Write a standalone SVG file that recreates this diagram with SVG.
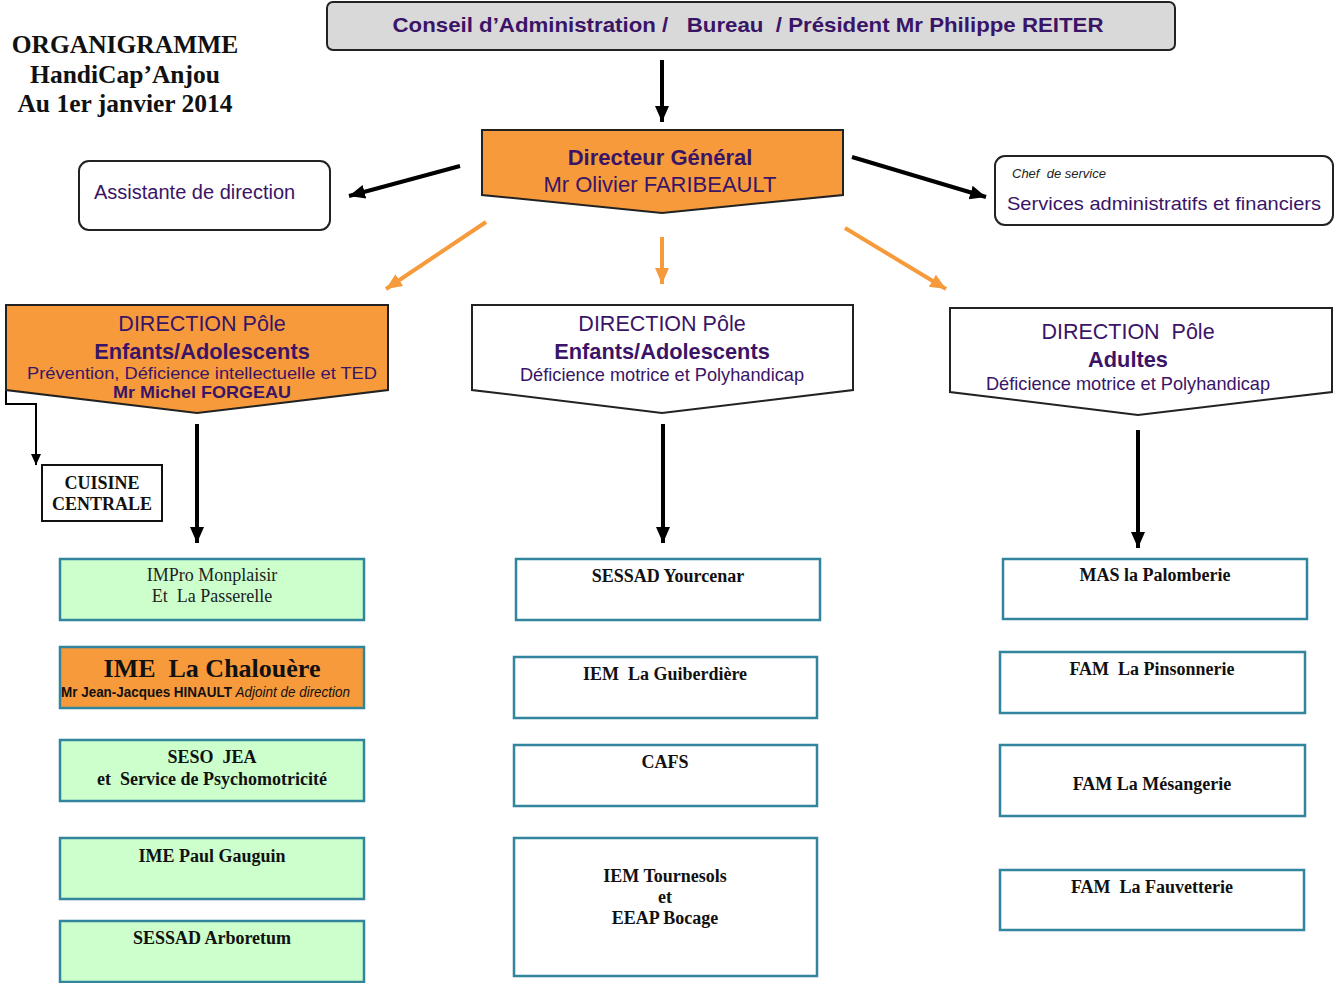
<svg xmlns="http://www.w3.org/2000/svg" width="1334" height="983" viewBox="0 0 1334 983">
<style>
text{white-space:pre}
.sans{font-family:"Liberation Sans",Arial,sans-serif}
.serif{font-family:"Liberation Serif","Times New Roman",serif}
.purple{fill:#3a1466}
.box{stroke:#31859c;stroke-width:2.5}
.green{fill:#ccffcc}
.white{fill:#ffffff}
.orange{fill:#f79a3c}
.lbl{font-family:"Liberation Serif","Times New Roman",serif;font-weight:bold;fill:#111;text-anchor:middle}
.blk{stroke:#000;stroke-width:4;fill:none}
.org{stroke:#f79a3c;stroke-width:4;fill:none}
</style>
<defs>
<marker id="ab" markerUnits="userSpaceOnUse" markerWidth="18" markerHeight="18" viewBox="0 0 18 18" refX="16" refY="9" orient="auto"><path d="M0,2 L16,9 L0,16 Z" fill="#000"/></marker>
<marker id="abs" markerUnits="userSpaceOnUse" markerWidth="12" markerHeight="12" viewBox="0 0 12 12" refX="11" refY="6" orient="auto"><path d="M0,1 L11,6 L0,11 Z" fill="#000"/></marker>
<marker id="ao" markerUnits="userSpaceOnUse" markerWidth="18" markerHeight="18" viewBox="0 0 18 18" refX="16" refY="9" orient="auto"><path d="M0,2 L16,9 L0,16 Z" fill="#f79a3c"/></marker>
</defs>
<rect width="1334" height="983" fill="#fff"/>

<g id="title" class="serif" font-weight="bold" font-size="25.5" fill="#111" text-anchor="middle">
<text x="125" y="53">ORGANIGRAMME</text>
<text x="125" y="83">HandiCap’Anjou</text>
<text x="125" y="112">Au 1er janvier 2014</text>
</g>

<g id="connectors">
<line x1="662" y1="60" x2="662" y2="122" class="blk" marker-end="url(#ab)"/>
<line x1="460" y1="166" x2="349" y2="196" class="blk" marker-end="url(#ab)"/>
<line x1="852" y1="157" x2="986" y2="197" class="blk" marker-end="url(#ab)"/>
<line x1="486" y1="222" x2="386" y2="289" class="org" marker-end="url(#ao)"/>
<line x1="662" y1="237" x2="662" y2="284" class="org" marker-end="url(#ao)"/>
<line x1="845" y1="228" x2="946" y2="289" class="org" marker-end="url(#ao)"/>
<line x1="197" y1="424" x2="197" y2="543" class="blk" marker-end="url(#ab)"/>
<line x1="663" y1="424" x2="663" y2="543" class="blk" marker-end="url(#ab)"/>
<line x1="1138" y1="430" x2="1138" y2="548" class="blk" marker-end="url(#ab)"/>
<path d="M6,345 V404 H36 V465" stroke="#000" stroke-width="2" fill="none" marker-end="url(#abs)"/>
</g>

<g id="conseil">
<rect x="327" y="2" width="848" height="48" rx="6" fill="#d9d9d9" stroke="#222" stroke-width="2"/>
<text x="748" y="32" class="sans purple" font-weight="bold" font-size="21" text-anchor="middle" textLength="711" lengthAdjust="spacingAndGlyphs">Conseil d’Administration /   Bureau  / Président Mr Philippe REITER</text>
</g>

<g id="dg">
<path d="M482,130 H843 V195 L662,213 L482,195 Z" class="orange" stroke="#222" stroke-width="2"/>
<text x="660" y="165" class="sans purple" font-weight="bold" font-size="22" text-anchor="middle">Directeur Général</text>
<text x="660" y="192" class="sans purple" font-size="22" text-anchor="middle">Mr Olivier FARIBEAULT</text>
</g>

<g id="assistante">
<rect x="79" y="161" width="251" height="69" rx="10" fill="#fff" stroke="#222" stroke-width="2"/>
<text x="94" y="199" class="sans purple" font-size="20">Assistante de direction</text>
</g>

<g id="chef">
<rect x="995" y="156" width="338" height="69" rx="10" fill="#fff" stroke="#222" stroke-width="2"/>
<text x="1012" y="178" class="sans" font-style="italic" font-size="13" fill="#222">Chef  de service</text>
<text x="1007" y="210" class="sans purple" font-size="19" textLength="314" lengthAdjust="spacingAndGlyphs">Services administratifs et financiers</text>
</g>

<g id="pole-ea1">
<path d="M6,305 H388 V390 L197,413 L6,390 Z" class="orange" stroke="#222" stroke-width="2"/>
<text x="202" y="331" class="sans purple" font-size="21.5" text-anchor="middle">DIRECTION Pôle</text>
<text x="202" y="359" class="sans purple" font-weight="bold" font-size="21.8" text-anchor="middle">Enfants/Adolescents</text>
<text x="202" y="379" class="sans purple" font-size="16.5" text-anchor="middle" textLength="350" lengthAdjust="spacingAndGlyphs">Prévention, Déficience intellectuelle et TED</text>
<text x="202" y="398" class="sans purple" font-weight="bold" font-size="17" text-anchor="middle" textLength="178" lengthAdjust="spacingAndGlyphs">Mr Michel FORGEAU</text>
</g>

<g id="pole-ea2">
<path d="M472,305 H853 V390 L662,413 L472,390 Z" fill="#fff" stroke="#222" stroke-width="2"/>
<text x="662" y="331" class="sans purple" font-size="21.5" text-anchor="middle">DIRECTION Pôle</text>
<text x="662" y="359" class="sans purple" font-weight="bold" font-size="21.8" text-anchor="middle">Enfants/Adolescents</text>
<text x="662" y="381" class="sans purple" font-size="18.2" text-anchor="middle">Déficience motrice et Polyhandicap</text>
</g>

<g id="pole-adultes">
<path d="M950,308 H1332 V392 L1138,415 L950,392 Z" fill="#fff" stroke="#222" stroke-width="2"/>
<text x="1128" y="339" class="sans purple" font-size="21.5" text-anchor="middle">DIRECTION  Pôle</text>
<text x="1128" y="367" class="sans purple" font-weight="bold" font-size="21.8" text-anchor="middle">Adultes</text>
<text x="1128" y="390" class="sans purple" font-size="18.2" text-anchor="middle">Déficience motrice et Polyhandicap</text>
</g>

<g id="cuisine">
<rect x="42" y="465" width="120" height="56" fill="#fff" stroke="#111" stroke-width="2"/>
<text x="102" y="489" class="lbl" style="font-size:18px">CUISINE</text>
<text x="102" y="510" class="lbl" style="font-size:18px">CENTRALE</text>
</g>

<g id="impro">
<rect x="60" y="559" width="304" height="61" class="box green"/>
<text x="212" y="581" class="serif" font-size="18" fill="#222" text-anchor="middle">IMPro Monplaisir</text>
<text x="212" y="602" class="serif" font-size="18" fill="#222" text-anchor="middle">Et  La Passerelle</text>
</g>

<g id="ime-chalouere">
<rect x="60" y="647" width="304" height="61" class="box orange"/>
<text x="212" y="677" class="lbl" style="font-size:26px">IME  La Chalouère</text>
<text x="61" y="697" class="sans" font-size="14" fill="#111" textLength="289" lengthAdjust="spacingAndGlyphs"><tspan font-weight="bold">Mr Jean-Jacques HINAULT </tspan><tspan font-style="italic">Adjoint de direction</tspan></text>
</g>

<g id="seso" style="font-size:18px">
<rect x="60" y="740" width="304" height="61" class="box green"/>
<text x="212" y="763" class="lbl">SESO  JEA</text>
<text x="212" y="785" class="lbl">et  Service de Psychomotricité</text>
</g>

<g id="ime-gauguin" style="font-size:18px">
<rect x="60" y="838" width="304" height="61" class="box green"/>
<text x="212" y="862" class="lbl">IME Paul Gauguin</text>
</g>

<g id="sessad-arboretum" style="font-size:18px">
<rect x="60" y="921" width="304" height="61" class="box green"/>
<text x="212" y="944" class="lbl">SESSAD Arboretum</text>
</g>

<g id="sessad-yourcenar" style="font-size:18px">
<rect x="516" y="559" width="304" height="61" class="box white"/>
<text x="668" y="582" class="lbl">SESSAD Yourcenar</text>
</g>

<g id="iem-guiberdiere" style="font-size:18px">
<rect x="514" y="657" width="303" height="61" class="box white"/>
<text x="665" y="680" class="lbl">IEM  La Guiberdière</text>
</g>

<g id="cafs" style="font-size:18px">
<rect x="514" y="745" width="303" height="61" class="box white"/>
<text x="665" y="768" class="lbl">CAFS</text>
</g>

<g id="iem-tournesols" style="font-size:18px">
<rect x="514" y="838" width="303" height="138" class="box white"/>
<text x="665" y="882" class="lbl">IEM Tournesols</text>
<text x="665" y="903" class="lbl">et</text>
<text x="665" y="924" class="lbl">EEAP Bocage</text>
</g>

<g id="mas-palomberie" style="font-size:18px">
<rect x="1003" y="559" width="304" height="60" class="box white"/>
<text x="1155" y="581" class="lbl">MAS la Palomberie</text>
</g>

<g id="fam-pinsonnerie" style="font-size:18px">
<rect x="1000" y="652" width="305" height="61" class="box white"/>
<text x="1152" y="675" class="lbl">FAM  La Pinsonnerie</text>
</g>

<g id="fam-mesangerie" style="font-size:18px">
<rect x="1000" y="745" width="305" height="71" class="box white"/>
<text x="1152" y="790" class="lbl">FAM La Mésangerie</text>
</g>

<g id="fam-fauvetterie" style="font-size:18px">
<rect x="1000" y="870" width="304" height="60" class="box white"/>
<text x="1152" y="893" class="lbl">FAM  La Fauvetterie</text>
</g>
</svg>
